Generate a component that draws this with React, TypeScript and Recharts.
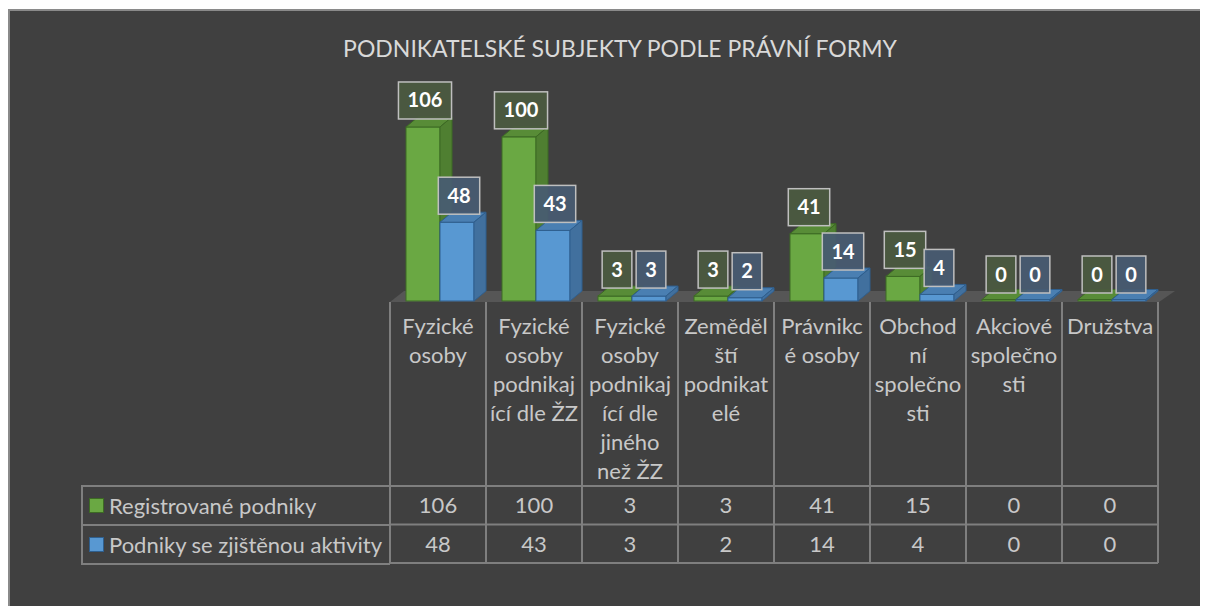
import React from "react";
import { Bar, BarChart, Customized, LabelList, Legend, XAxis, YAxis } from "recharts";

const categories = [
  "Fyzické osoby",
  "Fyzické osoby podnikající dle ŽZ",
  "Fyzické osoby podnikající dle jiného než ŽZ",
  "Zemědělští podnikatelé",
  "Právnikcé osoby",
  "Obchodní společnosti",
  "Akciové společnosti",
  "Družstva",
];

// wrapped the way the original table shows them
const tickLabels = [
  ["Fyzické", "osoby"],
  ["Fyzické", "osoby", "podnikaj", "ící dle ŽZ"],
  ["Fyzické", "osoby", "podnikaj", "ící dle", "jiného", "než ŽZ"],
  ["Zeměděl", "ští", "podnikat", "elé"],
  ["Právnikc", "é osoby"],
  ["Obchod", "ní", "společno", "sti"],
  ["Akciové", "společno", "sti"],
  ["Družstva"],
];

const registered = [106, 100, 3, 3, 41, 15, 0, 0];
const active = [48, 43, 3, 2, 14, 4, 0, 0];
const seriesNames = ["Registrované podniky", "Podniky se zjištěnou aktivity"];

const data = categories.map((name, i) => ({
  name,
  registered: registered[i],
  active: active[i],
}));

const W = 1198;
const H = 595;
const LEFT = 380;
const RIGHT = 1148;
const BASE = 290;
const ROW_TOP = 475;
const ROW_H = 38.5;
const GRID = "#7f7f7f";
const TEXT = "#c8c8c8";
const FONT = "Lato, 'Open Sans', sans-serif";
const FS = 22;
const DX = 12;
const DY = 10;

const colors = {
  registered: { front: "#6aa843", side: "#4f7f31", top: "#588c37", stroke: "#3d6a24", box: "#4b5a40" },
  active: { front: "#5898d2", side: "#41709e", top: "#4a7fb2", stroke: "#2f5f8e", box: "#485b72" },
};

function make3D(key: "registered" | "active") {
  return (props: any) => {
    const c = colors[key];
    const x = props.x + 2;
    const w = props.width;
    const h = Math.max(props.height, 1.5);
    const yy = BASE - h;
    return (
      <g>
        <rect x={x} y={yy} width={w} height={h} fill={c.front} stroke={c.stroke} strokeWidth={1} />
        <polygon
          points={`${x},${yy} ${x + DX},${yy - DY} ${x + w + DX},${yy - DY} ${x + w},${yy}`}
          fill={c.top}
          stroke={c.stroke}
          strokeWidth={1}
        />
        <polygon
          points={`${x + w},${yy} ${x + w + DX},${yy - DY} ${x + w + DX},${yy + h - DY} ${x + w},${yy + h}`}
          fill={c.side}
          stroke={c.stroke}
          strokeWidth={1}
        />
      </g>
    );
  };
}

function makeLabel(key: "registered" | "active") {
  return (props: any) => {
    const { x, width, value } = props;
    const text = String(value);
    const bw = text.length * 11.7 + 18;
    const bh = 37;
    const cx = x + 2 + width / 2 + 2;
    const top = BASE - Math.max(props.height, 0) - 8 - bh;
    return (
      <g>
        <rect
          x={cx - bw / 2}
          y={top}
          width={bw}
          height={bh}
          fill={colors[key].box}
          fillOpacity={0.92}
          stroke="#bfbfbf"
          strokeWidth={1.5}
        />
        <text
          x={cx}
          y={top + bh / 2 + 7}
          textAnchor="middle"
          fill="#ffffff"
          fontFamily={FONT}
          fontWeight={700}
          fontSize={20}
        >
          {text}
        </text>
      </g>
    );
  };
}

function Floor() {
  return (
    <polygon
      points={`${LEFT},${BASE + 1} ${RIGHT + 1},${BASE + 1} ${RIGHT + 17},${BASE - 10} ${LEFT + 14},${BASE - 10}`}
      fill="#565656"
    />
  );
}

function CategoryTick(props: any) {
  const { x, payload } = props;
  const i = payload.index;
  const band = (RIGHT - LEFT) / categories.length;
  const l = x - band / 2;
  const r = x + band / 2;
  const bottom = ROW_TOP + ROW_H * 2;
  return (
    <g>
      <line x1={l} y1={BASE + 1} x2={l} y2={bottom} stroke={GRID} strokeWidth={2} />
      {i === categories.length - 1 && (
        <line x1={r} y1={BASE + 1} x2={r} y2={bottom} stroke={GRID} strokeWidth={2} />
      )}
      <line x1={l} y1={ROW_TOP} x2={r} y2={ROW_TOP} stroke={GRID} strokeWidth={2} />
      <line x1={l} y1={ROW_TOP + ROW_H} x2={r} y2={ROW_TOP + ROW_H} stroke={GRID} strokeWidth={2} />
      <line x1={l} y1={bottom} x2={r} y2={bottom} stroke={GRID} strokeWidth={2} />
      {tickLabels[i].map((t, k) => (
        <text
          key={k}
          x={x}
          y={BASE + 33 + k * 29}
          textAnchor="middle"
          fill={TEXT}
          fontFamily={FONT}
          fontSize={FS}
        >
          {t}
        </text>
      ))}
      <text x={x} y={ROW_TOP + ROW_H / 2 + 8} textAnchor="middle" fill={TEXT} fontFamily={FONT} fontSize={FS}>
        {registered[i]}
      </text>
      <text x={x} y={ROW_TOP + ROW_H * 1.5 + 8} textAnchor="middle" fill={TEXT} fontFamily={FONT} fontSize={FS}>
        {active[i]}
      </text>
    </g>
  );
}

function LegendTable() {
  const swatch = [colors.registered, colors.active];
  return (
    <div
      style={{
        width: LEFT - 71,
        border: `2px solid ${GRID}`,
        borderRight: "none",
        boxSizing: "border-box",
        fontFamily: FONT,
        fontSize: FS,
        color: TEXT,
      }}
    >
      {seriesNames.map((n, k) => (
        <div
          key={n}
          style={{
            height: k === 0 ? ROW_H - 2 : ROW_H - 1,
            display: "flex",
            alignItems: "center",
            borderTop: k === 1 ? `2px solid ${GRID}` : "none",
            paddingLeft: 6,
            whiteSpace: "nowrap",
          }}
        >
          <span
            style={{
              display: "inline-block",
              width: 13,
              height: 13,
              background: swatch[k].front,
              border: `1px solid ${swatch[k].stroke}`,
              marginRight: 5,
            }}
          />
          {n}
        </div>
      ))}
    </div>
  );
}

export default function App() {
  return (
    <div
      style={{
        position: "relative",
        marginTop: 1,
        width: 1240,
        height: 597,
        background: "#404040",
        borderTop: "2px solid #8a8a8a",
        borderLeft: "2px solid #8a8a8a",
        boxSizing: "border-box",
      }}
    >
      <style>{"html{overflow:hidden}"}</style>
      <div
        style={{
          position: "absolute",
          left: 0,
          width: 1220,
          top: 24,
          textAlign: "center",
          fontFamily: FONT,
          fontSize: 23,
          color: "#d9d9d9",
          lineHeight: "26px",
        }}
      >
        PODNIKATELSKÉ SUBJEKTY PODLE PRÁVNÍ FORMY
      </div>
      <BarChart
        width={W}
        height={H}
        data={data}
        margin={{ top: BASE - 197, right: W - RIGHT, left: LEFT, bottom: 45 }}
        barSize={34}
        barGap={0}
      >
        <Customized component={<Floor />} />
        <XAxis
          dataKey="name"
          axisLine={false}
          tickLine={false}
          interval={0}
          height={H - BASE - 45}
          tick={<CategoryTick />}
        />
        <YAxis hide domain={[0, 120]} />
        <Legend
          layout="vertical"
          align="center"
          verticalAlign="middle"
          wrapperStyle={{ position: "absolute", left: 71, top: ROW_TOP - 1, width: LEFT - 71 }}
          content={<LegendTable />}
        />
        <Bar dataKey="registered" name={seriesNames[0]} shape={make3D("registered")} isAnimationActive={false}>
          <LabelList dataKey="registered" content={makeLabel("registered")} />
        </Bar>
        <Bar dataKey="active" name={seriesNames[1]} shape={make3D("active")} isAnimationActive={false}>
          <LabelList dataKey="active" content={makeLabel("active")} />
        </Bar>
      </BarChart>
    </div>
  );
}
